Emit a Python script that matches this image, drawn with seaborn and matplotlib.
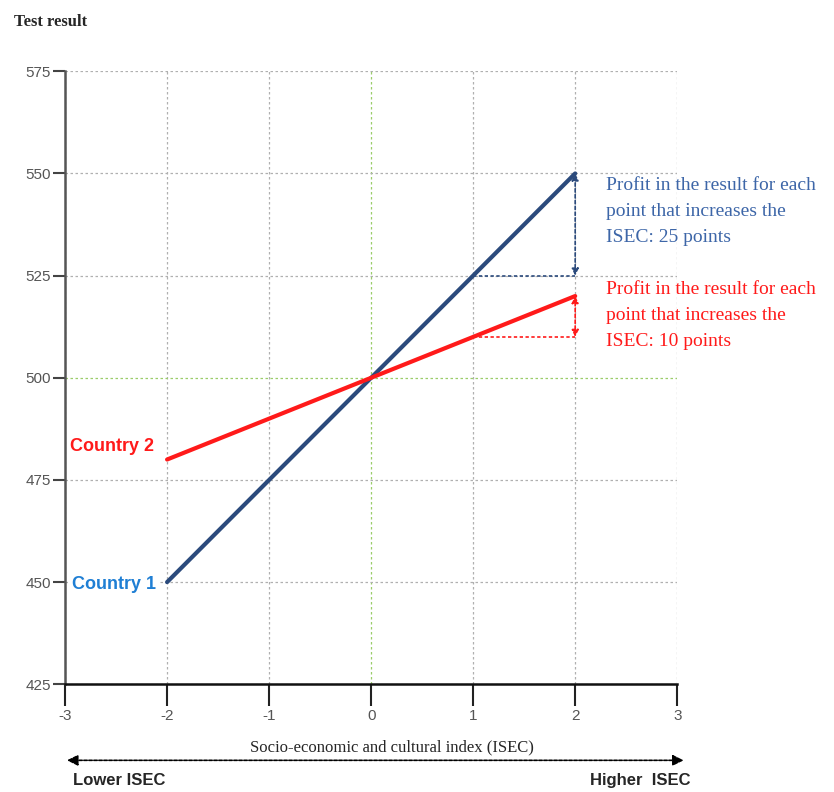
import matplotlib
matplotlib.use("Agg")
import matplotlib.pyplot as plt
import pandas as pd
import seaborn as sns

isec = [-2, 2]
country1 = [450, 550]
country2 = [480, 520]
x_ticks = [-3, -2, -1, 0, 1, 2, 3]
y_ticks = [425, 450, 475, 500, 525, 550, 575]

blue = "#2b4a7c"
red = "#ff1a1a"
text_blue = "#3d66a8"
label_blue = "#1f7fd4"

df = pd.DataFrame({
    "isec": isec * 2,
    "score": country1 + country2,
    "country": ["Country 1"] * 2 + ["Country 2"] * 2,
})

sns.set_style("white")
narrow = ["Liberation Sans Narrow", "Liberation Sans", "DejaVu Sans"]
serif = ["Liberation Serif", "DejaVu Serif"]

fig = plt.figure(figsize=(8.34, 7.92), dpi=100)
ax = fig.add_axes([0.078, 0.136, 0.734, 0.774])

# grid
for xv in x_ticks:
    c = "#9acd6a" if xv == 0 else "#b0b0b0"
    ax.axvline(xv, color=c, linestyle=(0, (2, 2)), linewidth=0.9, zorder=0)
for yv in y_ticks:
    c = "#9acd6a" if yv == 500 else "#b0b0b0"
    ax.axhline(yv, color=c, linestyle=(0, (2, 2)), linewidth=0.9, zorder=0)

sns.lineplot(data=df, x="isec", y="score", hue="country",
             palette={"Country 1": blue, "Country 2": red},
             linewidth=3, legend=False, ax=ax, zorder=3)

ax.set_xlim(-3, 3)
ax.set_ylim(425, 575)
ax.set_xticks(x_ticks)
ax.set_yticks(y_ticks)
ax.set_xticklabels([str(v) for v in x_ticks], family=narrow, color="#555555", fontsize=11)
ax.set_yticklabels([str(v) for v in y_ticks], family=narrow, color="#555555", fontsize=11)
ax.tick_params(axis="x", bottom=True, direction="out", length=16, width=1.5,
               color="#222222", pad=2)
ax.tick_params(axis="y", left=True, direction="out", length=9, width=1.5,
               color="#444444", pad=1)
ax.spines["top"].set_visible(False)
ax.spines["right"].set_visible(False)
ax.spines["left"].set_color("#555555")
ax.spines["left"].set_linewidth(1.8)
ax.spines["bottom"].set_color("#111111")
ax.spines["bottom"].set_linewidth(1.8)
ax.set_xlabel("")
ax.set_ylabel("")

# increments
ax.plot([1, 2], [525, 525], color=blue, linestyle=(0, (2, 1.5)), linewidth=1.2, zorder=2)
ax.annotate("", xy=(2, 550), xytext=(2, 525),
            arrowprops=dict(arrowstyle="<|-|>", color=blue, lw=1.2, linestyle=(0, (2, 1.5)),
                            shrinkA=0, shrinkB=0, mutation_scale=10))
ax.plot([1, 2], [510, 510], color=red, linestyle=(0, (2, 1.5)), linewidth=1.2, zorder=2)
ax.annotate("", xy=(2, 520), xytext=(2, 510),
            arrowprops=dict(arrowstyle="<|-|>", color=red, lw=1.2, linestyle=(0, (2, 1.5)),
                            shrinkA=0, shrinkB=0, mutation_scale=10))

fig.text(0.727, 0.777, "Profit in the result for each\npoint that increases the\nISEC: 25 points",
         color=text_blue, family=serif, fontsize=14, va="top", linespacing=1.7)
fig.text(0.727, 0.645, "Profit in the result for each\npoint that increases the\nISEC: 10 points",
         color=red, family=serif, fontsize=14, va="top", linespacing=1.7)

fig.text(0.084, 0.436, "Country 2", color=red, family=narrow, fontsize=13,
         fontweight="bold", va="center",
         bbox=dict(facecolor="white", edgecolor="none", pad=2))
fig.text(0.086, 0.262, "Country 1", color=label_blue, family=narrow, fontsize=13,
         fontweight="bold", va="center",
         bbox=dict(facecolor="white", edgecolor="none", pad=3))

fig.text(0.017, 0.972, "Test result", family=serif, fontsize=12, fontweight="bold", va="center")

fig.text(0.47, 0.056, "Socio-economic and cultural index (ISEC)", family=serif,
         fontsize=12, ha="center", va="center")
fig.add_artist(matplotlib.patches.FancyArrowPatch(
    (0.077, 0.040), (0.823, 0.040), transform=fig.transFigure,
    arrowstyle="<|-|>", mutation_scale=16, color="black", lw=1.2,
    linestyle=(0, (2, 1))))
fig.text(0.087, 0.014, "Lower ISEC", family=narrow, fontsize=12, fontweight="bold", va="center")
fig.text(0.707, 0.014, "Higher  ISEC", family=narrow, fontsize=12, fontweight="bold", va="center")

fig.savefig("out.png", dpi=100)
